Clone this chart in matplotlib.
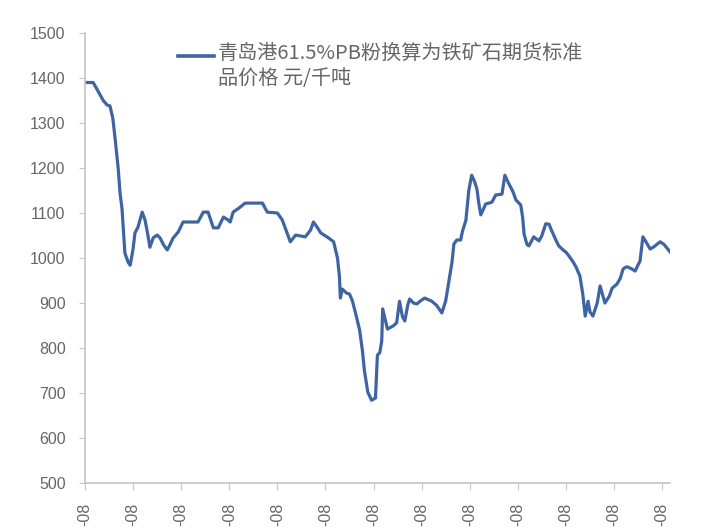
import matplotlib
matplotlib.use("Agg")
import matplotlib.pyplot as plt
from matplotlib.lines import Line2D

# position along the time axis (in tick intervals) and price
pos = [0.00, 0.17, 0.25, 0.38, 0.46, 0.52, 0.58, 0.63, 0.69, 0.73, 0.77, 0.83, 0.90, 0.94,
       1.00, 1.04, 1.10, 1.19, 1.25, 1.31, 1.35, 1.42, 1.50, 1.56, 1.63, 1.71, 1.77, 1.83,
       1.94, 2.04, 2.35, 2.46, 2.56, 2.67, 2.77, 2.88, 2.98, 3.02, 3.08, 3.19, 3.33, 3.69,
       3.79, 4.00, 4.10, 4.27, 4.38, 4.58, 4.69, 4.75, 4.83, 4.90, 5.06, 5.17, 5.25, 5.29,
       5.31, 5.35, 5.44, 5.50, 5.56, 5.63, 5.71, 5.77, 5.81, 5.88, 5.96, 6.04, 6.08, 6.13,
       6.17, 6.19, 6.25, 6.29, 6.42, 6.48, 6.54, 6.60, 6.65, 6.71, 6.75, 6.83, 6.90, 6.98,
       7.06, 7.21, 7.31, 7.42, 7.50, 7.56, 7.63, 7.67, 7.73, 7.81, 7.85, 7.92, 7.98, 8.04,
       8.10, 8.15, 8.19, 8.23, 8.29, 8.33, 8.46, 8.54, 8.67, 8.73, 8.79, 8.90, 8.96, 9.06,
       9.10, 9.13, 9.19, 9.23, 9.33, 9.44, 9.50, 9.58, 9.65, 9.69, 9.79, 9.85, 9.94, 10.00,
       10.06, 10.15, 10.21, 10.29, 10.35, 10.40, 10.46, 10.50, 10.56, 10.65, 10.71, 10.77,
       10.81, 10.90, 10.96, 11.06, 11.13, 11.19, 11.25, 11.29, 11.38, 11.44, 11.50, 11.54,
       11.60, 11.67, 11.75, 11.83, 11.92, 11.96, 12.04, 12.10, 12.17]
price = [1390, 1390, 1375, 1350, 1340, 1338, 1310, 1262, 1200, 1144, 1110, 1011, 990, 984,
         1020, 1056, 1068, 1102, 1084, 1050, 1024, 1045, 1051, 1045, 1030, 1018, 1030, 1044,
         1058, 1080, 1080, 1102, 1102, 1067, 1067, 1091, 1084, 1080, 1102, 1110, 1122, 1122,
         1102, 1100, 1085, 1036, 1051, 1047, 1062, 1080, 1068, 1056, 1045, 1036, 1000, 960,
         911, 931, 922, 920, 905, 876, 840, 793, 750, 702, 684, 689, 784, 790,
         816, 887, 860, 842, 850, 856, 904, 870, 860, 895, 909, 900, 898, 905,
         911, 904, 895, 878, 905, 944, 990, 1031, 1040, 1040, 1060, 1084, 1150, 1184,
         1170, 1153, 1120, 1096, 1110, 1120, 1124, 1140, 1142, 1184, 1170, 1147, 1129, 1118,
         1090, 1053, 1030, 1027, 1047, 1038, 1050, 1076, 1075, 1064, 1040, 1027, 1018, 1013,
         1005, 991, 980, 960, 920, 871, 904, 880, 871, 900, 938, 915,
         900, 915, 933, 942, 955, 976, 980, 980, 975, 971, 985, 993,
         1047, 1035, 1020, 1025, 1033, 1036, 1030, 1022, 1013]

xtick_labels = ["-08"] * 13
yticks = [500, 600, 700, 800, 900, 1000, 1100, 1200, 1300, 1400, 1500]
series_name = "青岛港61.5%PB粉换算为铁矿石期货标准\n品价格 元/千吨"

line_color = "#3f64a3"
grey = "#c4c4c4"
text_grey = "#666666"

fig = plt.figure(figsize=(7.2, 5.32), dpi=100)
ax = fig.add_axes([0.118, 0.092, 0.813, 0.846])
ax.plot(pos, price, color=line_color, lw=2.3, solid_joinstyle="round")

ax.set_ylim(500, 1500)
ax.set_xlim(0, 12.17)
ax.set_yticks(yticks)
ax.set_xticks(range(13))
ax.set_xticklabels(xtick_labels, rotation=90, va="top")

for s in ["top", "right"]:
    ax.spines[s].set_visible(False)
for s in ["left", "bottom"]:
    ax.spines[s].set_color(grey)
    ax.spines[s].set_linewidth(1.2)
ax.tick_params(axis="y", length=4, color=grey, labelsize=11.5, labelcolor=text_grey, pad=10)
ax.tick_params(axis="x", length=5, color=grey, labelsize=11.5, labelcolor=text_grey, pad=9)
for lab in ax.get_xticklabels() + ax.get_yticklabels():
    lab.set_family(["Liberation Sans", "DejaVu Sans"])

# legend drawn by hand so the handle sits next to the first line
fig.add_artist(Line2D([178 / 720, 214 / 720], [1 - 56 / 532, 1 - 56 / 532],
                      color=line_color, lw=2.6))
fig.text(218 / 720, 1 - 43 / 532, series_name, fontsize=14.5, color=text_grey,
         va="top", ha="left", linespacing=1.22,
         family=["Noto Sans CJK SC", "DejaVu Sans"])

fig.savefig("out.png", dpi=100)
